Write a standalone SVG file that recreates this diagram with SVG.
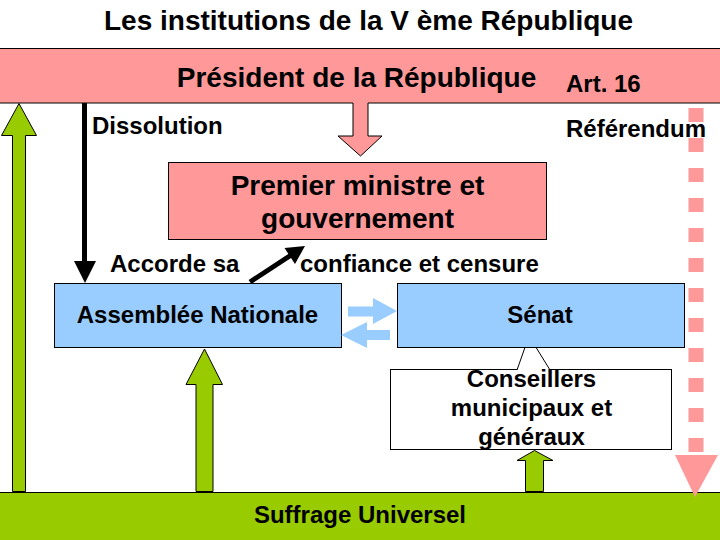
<svg xmlns="http://www.w3.org/2000/svg" width="720" height="540" viewBox="0 0 720 540">
<style>
text{font-family:"Liberation Sans",Arial,sans-serif;font-weight:bold;fill:#000}
.t24{font-size:24px}
.t28{font-size:28px}
.mid{text-anchor:middle}
.pink{fill:#FF9999}
.blue{fill:#99CCFF}
.green{fill:#99CC00}
.box{stroke:#000;stroke-width:1}
.outl{fill:none;stroke:#000;stroke-width:1}
</style>
<rect x="0" y="0" width="720" height="540" fill="#fff"/>
<text id="title" class="t28 mid" x="368.5" y="30">Les institutions de la V ème République</text>

<g id="president">
<rect class="pink box" x="-2" y="48.5" width="724" height="54.5"/>
<text class="t28 mid" x="356.5" y="87">Président de la République</text>
</g>
<g id="premier">
<rect class="pink box" x="168.5" y="162.5" width="378" height="77"/>
<text class="t28 mid" x="357.5" y="195">Premier ministre et</text>
<text class="t28 mid" x="357.5" y="228">gouvernement</text>
</g>
<g id="assemblee">
<rect class="blue box" x="54.5" y="283.5" width="287" height="64"/>
<text class="t24 mid" x="197.5" y="323">Assemblée Nationale</text>
</g>
<g id="conseillers">
<rect class="box" fill="#fff" x="390.5" y="369.5" width="281" height="80"/>
<path d="M517,370 L529,336 L550,370" fill="#fff" stroke="#000" stroke-width="1"/>
<text class="t24 mid" x="531.5" y="387">Conseillers</text>
<text class="t24 mid" x="531.5" y="416">municipaux et</text>
<text class="t24 mid" x="531.5" y="445">généraux</text>
</g>
<g id="senat">
<rect class="blue box" x="397.5" y="283.5" width="287" height="64"/>
<text class="t24 mid" x="540" y="323">Sénat</text>
</g>
<g id="suffrage">
<rect class="green box" x="-2" y="492.5" width="724" height="50"/>
<text class="t24 mid" x="360" y="523">Suffrage Universel</text>
</g>

<g id="connectors">
<!-- President to Premier ministre -->
<polygon class="pink" points="353,102 368,102 368,136 382,136 360.5,156 338,136 353,136"/>
<path class="outl" d="M353,103 L353,136 L338,136 L360.5,156 L382,136 L368,136 L368,103"/>
<!-- Dissolution -->
<line x1="84.5" y1="103" x2="84.5" y2="263" stroke="#000" stroke-width="5"/>
<polygon points="74,261 96,261 85,283" fill="#000"/>
<!-- Accorde sa confiance et censure -->
<line x1="250" y1="282" x2="292" y2="254.5" stroke="#000" stroke-width="5"/>
<polygon points="305,246 295,264 284.5,248" fill="#000"/>
<!-- Assemblee <-> Senat -->
<polygon class="blue" points="348,306.5 373,306.5 373,298 397,311 373,324 373,316.5 348,316.5"/>
<polygon class="blue" points="390,330 367,330 367,322 341,335 367,348 367,340 390,340"/>
<!-- Suffrage to President -->
<polygon class="green box" points="12.5,491.5 12.5,135.5 1.5,135.5 19,103.5 36.5,135.5 25.5,135.5 25.5,491.5"/>
<!-- Suffrage to Assemblee -->
<polygon class="green box" points="196,491.5 196,384.5 186,384.5 204.5,349 222.5,384.5 213,384.5 213,491.5"/>
<!-- Suffrage to Conseillers -->
<polygon class="green box" points="525.5,491.5 525.5,460.5 517,460.5 534.5,450.5 553,460.5 543.5,460.5 543.5,491.5"/>
<!-- Referendum -->
<line x1="696" y1="108" x2="696" y2="455" stroke="#FF9999" stroke-width="15" stroke-dasharray="14 16"/>
<polygon class="pink" points="675,455 718,455 695,497"/>
</g>

<g id="labels">
<text class="t24" x="566" y="92">Art. 16</text>
<text class="t24" x="92" y="134">Dissolution</text>
<text class="t24" x="566" y="137">Référendum</text>
<text class="t24" x="110" y="272">Accorde sa</text>
<text class="t24" x="300" y="272">confiance et censure</text>
</g>
</svg>
